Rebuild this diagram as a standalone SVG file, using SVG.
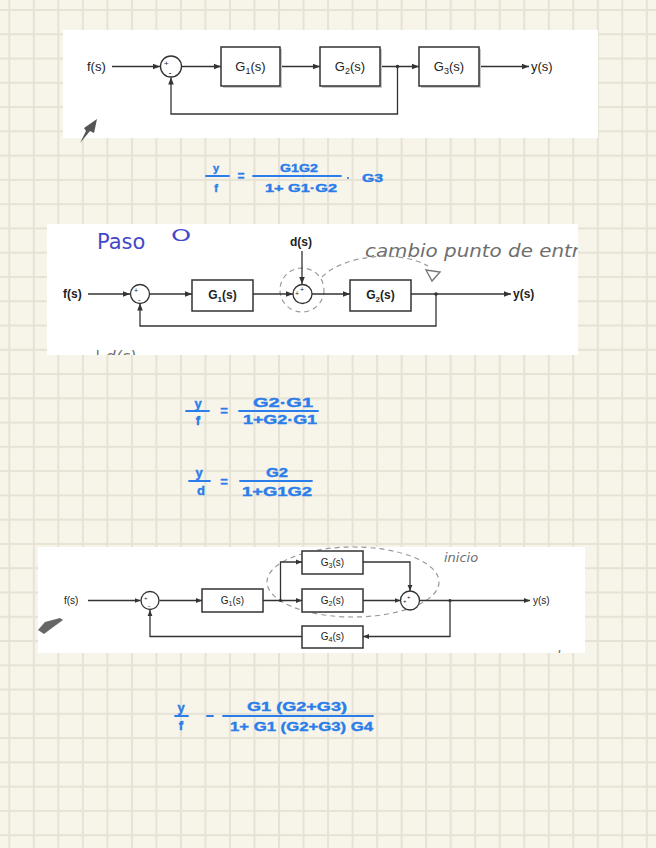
<svg xmlns="http://www.w3.org/2000/svg" width="656" height="848" viewBox="0 0 656 848">
<defs>
<pattern id="grid" patternUnits="userSpaceOnUse" x="8.3" y="9" width="24.52" height="24.27">
<rect width="24.52" height="24.27" fill="#f7f5e9"/>
<rect x="0" y="0" width="2" height="24.27" fill="#e6e2d5"/>
<rect x="0" y="0" width="24.52" height="2" fill="#e6e2d5"/>
</pattern>
<marker id="ah" viewBox="0 0 10 10" refX="10" refY="5" markerWidth="7" markerHeight="7" markerUnits="userSpaceOnUse" orient="auto"><path d="M0,1 L10,5 L0,9 z" fill="#333"/></marker>
<marker id="ah2" viewBox="0 0 10 10" refX="10" refY="5" markerWidth="6" markerHeight="6" markerUnits="userSpaceOnUse" orient="auto"><path d="M0,1 L10,5 L0,9 z" fill="#333"/></marker>
<clipPath id="clip2"><rect x="47" y="224" width="531" height="131"/></clipPath>
<clipPath id="clip3"><rect x="38" y="547" width="547" height="106"/></clipPath>
</defs>
<style>
.panel{fill:#ffffff}
.box{fill:#fff;stroke:#333;stroke-width:1.5}
.shadow{fill:#c8c8c8}
.wire{stroke:#333;stroke-width:1.3;fill:none}
.sum{fill:#fff;stroke:#333;stroke-width:1.3}
.lbl{font-family:"Liberation Sans",Arial,sans-serif;fill:#222}
.hw{font-family:"Liberation Sans",Arial,sans-serif;font-weight:bold;fill:#2b7de9;stroke:#2b7de9;stroke-width:0.4}
.bar{stroke:#2b7de9;stroke-width:1.8;stroke-linecap:round}
.pencil{font-family:"DejaVu Sans",sans-serif;fill:#6e6e6e;font-style:italic}
.dash{fill:none;stroke:#9a9a9a;stroke-width:1.2;stroke-dasharray:5 4}
</style>
<rect width="656" height="848" fill="url(#grid)"/>

<!-- Panel 1 -->
<g id="panel1">
<rect class="panel" x="63" y="30" width="535" height="108"/>
<path d="M80,143 L86,131 L84,128 L97,119 L94,133 L90,131 Z" fill="#555"/>
</g>
<g id="p1-connectors">
<path class="wire" d="M112,66.5 H160" marker-end="url(#ah)"/>
<path class="wire" d="M181.5,66.5 H221" marker-end="url(#ah)"/>
<path class="wire" d="M280,66.5 H320" marker-end="url(#ah)"/>
<path class="wire" d="M380,66.5 H419" marker-end="url(#ah)"/>
<path class="wire" d="M479.5,66.5 H529" marker-end="url(#ah)"/>
<path class="wire" d="M397.5,66.5 V114 H171 V77.5" marker-end="url(#ah)"/>
<circle cx="397.5" cy="66.5" r="1.8" fill="#333"/>
</g>
<g id="p1-f"><text class="lbl" x="87" y="71" font-size="13">f(s)</text></g>
<g id="p1-sum"><circle class="sum" cx="171" cy="66.5" r="10.5"/><text class="lbl" x="164" y="66" font-size="8">+</text><text class="lbl" x="168.5" y="76" font-size="9">-</text></g>
<g id="p1-G1"><rect class="shadow" x="223" y="49" width="59" height="39"/><rect class="box" x="221" y="47" width="59" height="39"/><text class="lbl" x="250.5" y="71" font-size="13" text-anchor="middle">G<tspan font-size="9" dy="3">1</tspan><tspan dy="-3">(s)</tspan></text></g>
<g id="p1-G2"><rect class="shadow" x="322" y="49" width="60" height="39"/><rect class="box" x="320" y="47" width="60" height="39"/><text class="lbl" x="350" y="71" font-size="13" text-anchor="middle">G<tspan font-size="9" dy="3">2</tspan><tspan dy="-3">(s)</tspan></text></g>
<g id="p1-G3"><rect class="shadow" x="421" y="49" width="60" height="39"/><rect class="box" x="419" y="47" width="60" height="39"/><text class="lbl" x="449" y="71" font-size="13" text-anchor="middle">G<tspan font-size="9" dy="3">3</tspan><tspan dy="-3">(s)</tspan></text></g>
<g id="p1-y"><text class="lbl" x="531" y="71" font-size="13">y(s)</text></g>

<!-- Equation 1 -->
<g id="eq1">
<text class="hw" x="216" y="172" font-size="11" text-anchor="middle">y</text>
<line class="bar" x1="206" y1="176" x2="229" y2="176"/>
<text class="hw" x="216" y="192" font-size="11" text-anchor="middle">f</text>
<text class="hw" x="241" y="180" font-size="12" text-anchor="middle">=</text>
<text class="hw" x="280" y="172" font-size="11" textLength="38" lengthAdjust="spacingAndGlyphs">G1G2</text>
<line class="bar" x1="253" y1="176" x2="341" y2="176"/>
<text class="hw" x="265" y="192" font-size="11" textLength="72" lengthAdjust="spacingAndGlyphs">1+ G1·G2</text>
<circle cx="348" cy="178" r="1.1" fill="#2b7de9"/>
<text class="hw" x="362" y="182" font-size="11" textLength="21" lengthAdjust="spacingAndGlyphs">G3</text>
</g>

<!-- Panel 2 -->
<g id="panel2">
<rect class="panel" x="47" y="224" width="531" height="131"/>
<g clip-path="url(#clip2)">
<text x="97" y="249" font-family="DejaVu Sans, sans-serif" font-size="21" fill="#4448c8">Paso</text>
<text x="0" y="0" font-family="DejaVu Sans, sans-serif" font-size="16" fill="#4448c8" transform="translate(171,241) scale(1.6,1)">O</text>
<text class="pencil" x="365" y="257" font-size="17" textLength="215" lengthAdjust="spacingAndGlyphs">cambio punto de entr</text>
<text class="pencil" x="95" y="362" font-size="16">| d(s)</text>
</g>
<circle class="dash" cx="302" cy="290" r="22"/>
<path class="dash" d="M322,277 C345,254 400,250 428,266"/>
<path d="M426,270 L440,272 L432,281 Z" fill="none" stroke="#777" stroke-width="1.4"/>
</g>
<g id="p2-connectors">
<path class="wire" d="M302,251 V284" marker-end="url(#ah)"/>
<path class="wire" d="M88,294 H130" marker-end="url(#ah)"/>
<path class="wire" d="M149.5,294 H192" marker-end="url(#ah)"/>
<path class="wire" d="M253,294 H293" marker-end="url(#ah)"/>
<path class="wire" d="M312,294 H350" marker-end="url(#ah)"/>
<path class="wire" d="M411,294 H511" marker-end="url(#ah)"/>
<path class="wire" d="M436,294 V326 H140 V303.5" marker-end="url(#ah)"/>
<circle cx="436" cy="294" r="1.8" fill="#333"/>
</g>
<g id="p2-d"><text class="lbl" x="290" y="246" font-size="12" font-weight="bold">d(s)</text></g>
<g id="p2-f"><text class="lbl" x="63" y="298" font-size="12" font-weight="bold">f(s)</text></g>
<g id="p2-sum1"><circle class="sum" cx="140" cy="294" r="9.5"/><text class="lbl" x="134" y="293" font-size="7">+</text><text class="lbl" x="138" y="302" font-size="8">-</text></g>
<g id="p2-G1"><rect class="box" x="192" y="280" width="61" height="31"/><text class="lbl" x="222.5" y="299" font-size="12" font-weight="bold" text-anchor="middle">G<tspan font-size="8" dy="3">1</tspan><tspan dy="-3">(s)</tspan></text></g>
<g id="p2-sum2"><circle class="sum" cx="302.5" cy="294" r="9.5"/><text class="lbl" x="300" y="292" font-size="7">+</text><text class="lbl" x="295" y="296" font-size="7">+</text></g>
<g id="p2-G2"><rect class="box" x="350" y="280" width="61" height="31"/><text class="lbl" x="380.5" y="299" font-size="12" font-weight="bold" text-anchor="middle">G<tspan font-size="8" dy="3">2</tspan><tspan dy="-3">(s)</tspan></text></g>
<g id="p2-y"><text class="lbl" x="513" y="298" font-size="12" font-weight="bold">y(s)</text></g>

<!-- Equations 2 and 3 -->
<g id="eq2">
<text class="hw" x="198" y="408" font-size="13" text-anchor="middle">y</text>
<line class="bar" x1="186" y1="411" x2="209" y2="411"/>
<text class="hw" x="198" y="425" font-size="13" text-anchor="middle">f</text>
<text class="hw" x="224" y="415" font-size="13" text-anchor="middle">=</text>
<text class="hw" x="253" y="407" font-size="13" textLength="60" lengthAdjust="spacingAndGlyphs">G2·G1</text>
<line class="bar" x1="239" y1="411" x2="318" y2="411"/>
<text class="hw" x="243" y="424" font-size="13" textLength="74" lengthAdjust="spacingAndGlyphs">1+G2·G1</text>
</g>
<g id="eq3">
<text class="hw" x="199" y="477" font-size="13" text-anchor="middle">y</text>
<line class="bar" x1="189" y1="481" x2="210" y2="481"/>
<text class="hw" x="201" y="495" font-size="13" text-anchor="middle">d</text>
<text class="hw" x="224" y="486" font-size="13" text-anchor="middle">=</text>
<text class="hw" x="266" y="477" font-size="13" textLength="22" lengthAdjust="spacingAndGlyphs">G2</text>
<line class="bar" x1="240" y1="481" x2="312" y2="481"/>
<text class="hw" x="242" y="496" font-size="13" textLength="70" lengthAdjust="spacingAndGlyphs">1+G1G2</text>
</g>

<!-- Panel 3 -->
<g id="panel3">
<rect class="panel" x="38" y="547" width="547" height="106"/>
<ellipse class="dash" cx="353" cy="582" rx="86" ry="35"/>
<g clip-path="url(#clip3)">
<text class="pencil" x="444" y="562" font-size="13">inicio</text>
<text class="pencil" x="547" y="661" font-size="14">- ba</text>
</g>
<path d="M38,630 L45,622 L60,618 L63,620 L52,628 L44,634 Z" fill="#666"/>
</g>
<g id="p3-connectors">
<path class="wire" d="M88,600.5 H140.5" marker-end="url(#ah2)"/>
<path class="wire" d="M159.5,600.5 H202" marker-end="url(#ah2)"/>
<path class="wire" d="M263,600.5 H302" marker-end="url(#ah2)"/>
<path class="wire" d="M280.5,600.5 V562 H302" marker-end="url(#ah2)"/>
<path class="wire" d="M363,562 H410 V591" marker-end="url(#ah2)"/>
<path class="wire" d="M363,600.5 H400.5" marker-end="url(#ah2)"/>
<path class="wire" d="M419.5,600.5 H530" marker-end="url(#ah2)"/>
<path class="wire" d="M450,600.5 V636.5 H363" marker-end="url(#ah2)"/>
<path class="wire" d="M302,636.5 H150 V610" marker-end="url(#ah2)"/>
<circle cx="280.5" cy="600.5" r="1.6" fill="#333"/>
<circle cx="450" cy="600.5" r="1.6" fill="#333"/>
</g>
<g id="p3-f"><text class="lbl" x="64" y="604" font-size="10">f(s)</text></g>
<g id="p3-sum1"><circle class="sum" cx="150" cy="600.5" r="9"/><text class="lbl" x="144" y="600" font-size="6">+</text><text class="lbl" x="148" y="608" font-size="7">-</text></g>
<g id="p3-G1"><rect class="box" x="202" y="589" width="61" height="23"/><text class="lbl" x="232.5" y="604" font-size="10" text-anchor="middle">G<tspan font-size="7" dy="2">1</tspan><tspan dy="-2">(s)</tspan></text></g>
<g id="p3-G3"><rect class="box" x="302" y="551" width="61" height="23"/><text class="lbl" x="332.5" y="566" font-size="10" text-anchor="middle">G<tspan font-size="7" dy="2">3</tspan><tspan dy="-2">(s)</tspan></text></g>
<g id="p3-G2"><rect class="box" x="302" y="589" width="61" height="23"/><text class="lbl" x="332.5" y="604" font-size="10" text-anchor="middle">G<tspan font-size="7" dy="2">2</tspan><tspan dy="-2">(s)</tspan></text></g>
<g id="p3-sum2"><circle class="sum" cx="410" cy="600.5" r="9.5"/><text class="lbl" x="407" y="599" font-size="6">+</text><text class="lbl" x="403" y="603" font-size="6">+</text></g>
<g id="p3-G4"><rect class="box" x="302" y="626" width="61" height="22"/><text class="lbl" x="332.5" y="640" font-size="10" text-anchor="middle">G<tspan font-size="7" dy="2">4</tspan><tspan dy="-2">(s)</tspan></text></g>
<g id="p3-y"><text class="lbl" x="533" y="604" font-size="10">y(s)</text></g>

<!-- Equation 4 -->
<g id="eq4">
<text class="hw" x="181" y="712" font-size="13" text-anchor="middle">y</text>
<line class="bar" x1="175" y1="716" x2="188" y2="716"/>
<text class="hw" x="181" y="730" font-size="13" text-anchor="middle">f</text>
<line class="bar" x1="207" y1="716" x2="213" y2="716"/>
<text class="hw" x="247" y="711" font-size="13" textLength="100" lengthAdjust="spacingAndGlyphs">G1 (G2+G3)</text>
<line class="bar" x1="223" y1="716" x2="373" y2="716"/>
<text class="hw" x="230" y="731" font-size="13" textLength="143" lengthAdjust="spacingAndGlyphs">1+ G1 (G2+G3) G4</text>
</g>
</svg>
